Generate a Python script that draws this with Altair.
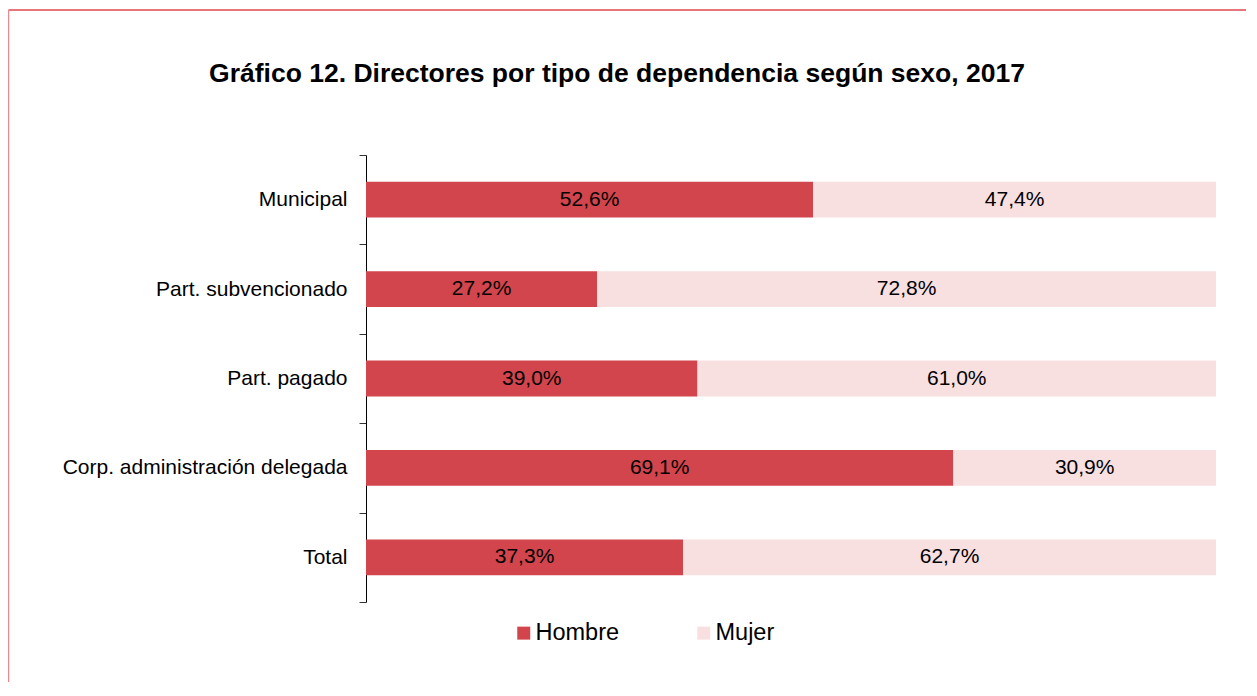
import altair as alt
import pandas as pd

categories = ["Municipal", "Part. subvencionado", "Part. pagado",
              "Corp. administración delegada", "Total"]
hombre = [52.6, 27.2, 39.0, 69.1, 37.3]
mujer = [47.4, 72.8, 61.0, 30.9, 62.7]
series = ["Hombre", "Mujer"]
colors = ["#D3454C", "#F8DFE0"]
title_text = "Gráfico 12. Directores por tipo de dependencia según sexo, 2017"

rows = []
for c, h, m in zip(categories, hombre, mujer):
    for i, (s, v) in enumerate(zip(series, [h, m])):
        rows.append({"cat": c, "sexo": s, "v": v, "ord": i,
                     "lab": f"{v:.1f}%".replace(".", ",")})
df = pd.DataFrame(rows)

FONT = "Liberation Sans"

base = alt.Chart(df).transform_stack(
    stack="v", groupby=["cat"], as_=["v0", "v1"], sort=[alt.SortField("ord")]
).transform_calculate(mid="(datum.v0 + datum.v1) / 2")

yenc = alt.Y("cat:N", sort=categories, title=None,
             scale=alt.Scale(paddingInner=0, paddingOuter=0),
             axis=alt.Axis(tickBand="extent", labelFontSize=21, labelFont=FONT,
                           labelColor="#000000", labelPadding=12, tickSize=7,
                           tickColor="#333333", domainColor="#000000",
                           domainWidth=1, grid=False, labelLimit=400))

xscale = alt.Scale(domain=[0, 100], nice=False, zero=True)

bars = base.mark_bar(height=alt.RelativeBandSize(0.4)).encode(
    y=yenc,
    x=alt.X("v0:Q", scale=xscale, axis=None),
    x2="v1:Q",
    color=alt.Color("sexo:N", sort=series,
                    scale=alt.Scale(domain=series, range=colors),
                    legend=alt.Legend(title=None, orient="none", direction="horizontal",
                                      legendX=146, legendY=466,
                                      symbolType="square", symbolSize=169,
                                      symbolStrokeWidth=0, labelFontSize=23.5,
                                      labelFont=FONT, labelColor="#000000",
                                      labelOffset=0, columnPadding=72)),
)

texts = base.mark_text(fontSize=21, font=FONT, color="#000000").encode(
    y=alt.Y("cat:N", sort=categories),
    x=alt.X("mid:Q", scale=xscale),
    text="lab:N",
)

border_top = alt.Chart(pd.DataFrame({"a": [0]})).mark_rule(
    color="#E0474F", strokeWidth=1.5).encode(
    x=alt.value(-357.5), x2=alt.value(920), y=alt.value(-145))
border_left = alt.Chart(pd.DataFrame({"a": [0]})).mark_rule(
    color="#E88A90", strokeWidth=1.5).encode(
    x=alt.value(-357.5), y=alt.value(-145), y2=alt.value(600))

chart = alt.layer(bars, texts, border_top, border_left).properties(
    width=850, height=447,
    autosize=alt.AutoSizeParams(type="none"),
    padding={"left": 358, "top": 147, "right": 30, "bottom": 80},
    title=alt.TitleParams(title_text, fontSize=26.5, font=FONT, fontWeight="bold",
                          color="#000000", anchor="middle", dx=-174, offset=-78),
).configure_view(stroke=None)

chart.save("out.html", embed_options={"renderer": "svg", "actions": False})
